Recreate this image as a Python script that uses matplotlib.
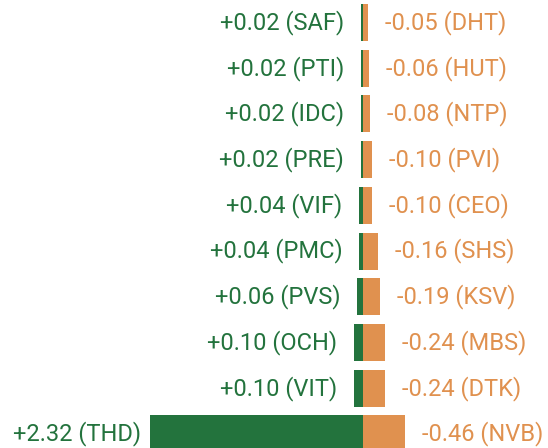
import matplotlib.pyplot as plt

plt.rcParams['font.family'] = ['Roboto', 'DejaVu Sans']

GREEN = '#23733d'
ORANGE = '#e0914f'

up_names = ['SAF', 'PTI', 'IDC', 'PRE', 'VIF', 'PMC', 'PVS', 'OCH', 'VIT', 'THD']
up_vals = [0.02, 0.02, 0.02, 0.02, 0.04, 0.04, 0.06, 0.10, 0.10, 2.32]
down_names = ['DHT', 'HUT', 'NTP', 'PVI', 'CEO', 'SHS', 'KSV', 'MBS', 'DTK', 'NVB']
down_vals = [0.05, 0.06, 0.08, 0.10, 0.10, 0.16, 0.19, 0.24, 0.24, 0.46]

fig = plt.figure(figsize=(5.48, 4.48), dpi=100)
ax = fig.add_axes([0, 0, 1, 1])

rows = list(range(len(up_vals)))
ax.barh(rows, [-v for v in up_vals], height=0.81, color=GREEN, linewidth=0)
ax.barh(rows, down_vals, height=0.81, color=ORANGE, linewidth=0)

for i in rows:
    off = -17 if up_vals[i] < 1 else -8
    ax.annotate('+%.2f (%s)' % (up_vals[i], up_names[i]), (-up_vals[i], i),
                xytext=(off, 0), textcoords='offset pixels',
                ha='right', va='center', color=GREEN, fontsize=17)
    ax.annotate('-%.2f (%s)' % (down_vals[i], down_names[i]), (down_vals[i], i),
                xytext=(17, 0), textcoords='offset pixels',
                ha='left', va='center', color=ORANGE, fontsize=17)

ax.set_xlim(-3.946, 2.011)
ax.set_ylim(9.31, -0.492)
ax.axis('off')

fig.savefig('out.png', dpi=100)
